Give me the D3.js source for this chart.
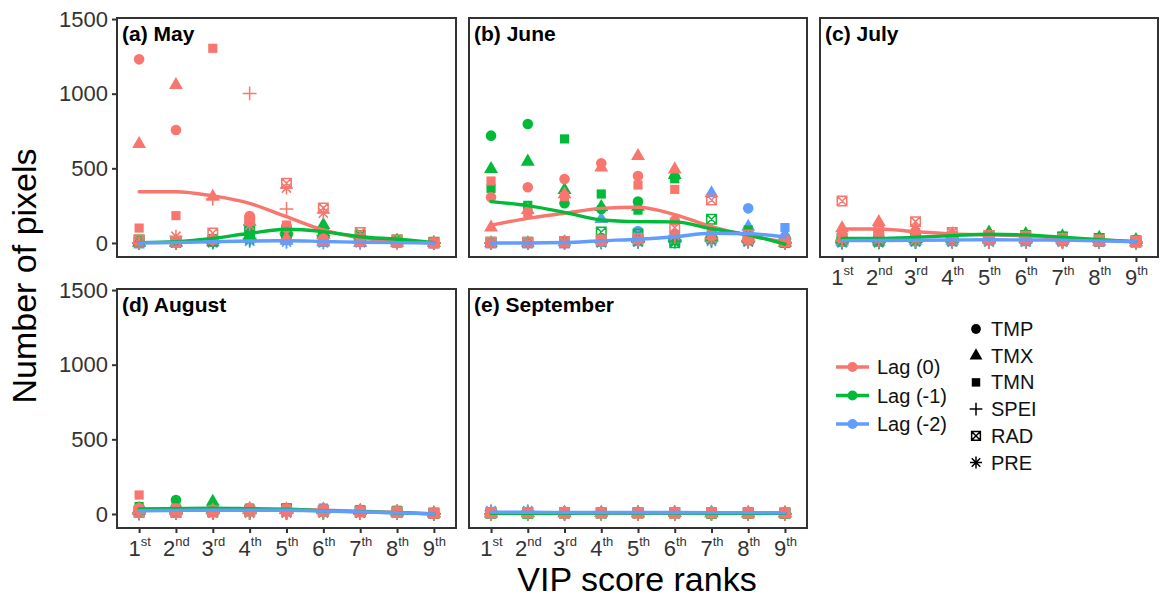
<!DOCTYPE html>
<html>
<head>
<meta charset="utf-8">
<script src="https://cdn.jsdelivr.net/npm/d3@7"></script>
<style>
  body { margin: 0; background: #fff; }
  svg { display: block; font-family: "Liberation Sans", Arial, sans-serif; }
</style>
</head>
<body>
<svg id="chart" width="1161" height="598"></svg>
<script>
const ranks = ["1", "2", "3", "4", "5", "6", "7", "8", "9"];
const rankSuffix = ["st", "nd", "rd", "th", "th", "th", "th", "th", "th"];
const variables = ["TMP", "TMX", "TMN", "SPEI", "RAD", "PRE"];
const lags = ["Lag (0)", "Lag (-1)", "Lag (-2)"];
const monthTitles = ["(a) May", "(b) June", "(c) July", "(d) August", "(e) September"];
const yTicks = [0, 500, 1000, 1500];

// rows: TMP, TMX, TMN, SPEI, RAD, PRE -- columns: rank 1st..9th
const mayLag0 = [
  [1230, 757, 20, 180, 100, 30, 10, 5, 0],
  [663, 1058, 310, 140, 30, 10, 5, 0, 0],
  [100, 183, 1304, 170, 120, 20, 10, 0, 0],
  [0, 0, 295, 1002, 228, 30, 10, 5, 0],
  [20, 10, 67, 150, 400, 235, 70, 20, 0],
  [0, 45, 20, 120, 368, 200, 40, 10, 0]
];
const mayLag1 = [
  [10, 5, 10, 60, 114, 70, 40, 20, 0],
  [5, 5, 20, 50, 90, 120, 35, 15, 0],
  [15, 10, 30, 130, 80, 60, 40, 20, 0],
  [0, 0, 10, 30, 60, 50, 30, 15, 0],
  [20, 10, 15, 80, 70, 60, 50, 20, 5],
  [0, 0, 5, 20, 50, 40, 30, 10, 0]
];
const mayLag2 = [
  [0, 5, 10, 40, 20, 10, 5, 0, 0],
  [0, 0, 5, 30, 15, 5, 0, 0, 0],
  [5, 5, 10, 90, 30, 15, 5, 5, 0],
  [0, 0, 5, 20, 10, 5, 0, 0, 0],
  [0, 5, 10, 100, 25, 10, 10, 5, 0],
  [0, 0, 0, 10, 5, 0, 0, 0, 0]
];
const mayLine0 = [343, 343, 315, 265, 176, 87, 35, 13, 0];
const mayLine1 = [2, 9, 31, 65, 92, 76, 42, 25, 2];
const mayLine2 = [0, 3, 8, 13, 15, 10, 5, 2, 0];

const juneLag0 = [
  [306, 373, 429, 534, 449, 150, 60, 30, 5],
  [103, 221, 326, 505, 583, 493, 80, 40, 10],
  [415, 200, 310, 20, 388, 359, 50, 20, 5],
  [0, 0, 5, 10, 15, 40, 30, 10, 0],
  [5, 5, 10, 20, 30, 102, 288, 54, 9],
  [0, 0, 0, 10, 20, 50, 30, 20, 5]
];
const juneLag1 = [
  [719, 797, 266, 228, 277, 440, 50, 20, 0],
  [496, 545, 355, 241, 243, 455, 60, 40, 0],
  [366, 252, 697, 328, 220, 430, 70, 87, 10],
  [0, 0, 5, 10, 10, 20, 20, 10, 0],
  [5, 5, 10, 74, 60, 2, 159, 30, 5],
  [0, 0, 0, 5, 10, 10, 20, 10, 0]
];
const juneLag2 = [
  [0, 0, 5, 20, 80, 60, 40, 232, 42],
  [0, 0, 5, 161, 30, 40, 333, 109, 50],
  [0, 5, 10, 30, 20, 20, 33, 30, 103],
  [0, 0, 0, 5, 5, 10, 10, 10, 5],
  [0, 0, 0, 10, 15, 20, 30, 20, 10],
  [0, 0, 0, 0, 5, 5, 10, 5, 0]
];
const juneLine0 = [120, 165, 199, 232, 239, 190, 109, 50, 7];
const juneLine1 = [277, 250, 205, 154, 143, 141, 95, 55, -8];
const juneLine2 = [0, 0, 3, 15, 25, 42, 65, 62, 40];

const julyLag0 = [
  [60, 70, 50, 40, 30, 25, 20, 15, 5],
  [98, 140, 90, 60, 40, 30, 20, 10, 5],
  [40, 60, 70, 50, 30, 40, 20, 15, 5],
  [10, 10, 10, 10, 5, 5, 5, 5, 0],
  [281, 80, 143, 70, 50, 45, 30, 20, 10],
  [20, 20, 20, 15, 10, 10, 10, 5, 5]
];
const julyLag1 = [
  [30, 30, 40, 50, 60, 50, 40, 30, 20],
  [40, 30, 40, 55, 70, 60, 45, 35, 20],
  [20, 20, 30, 50, 55, 55, 45, 35, 15],
  [5, 5, 5, 10, 10, 10, 10, 10, 5],
  [30, 20, 30, 40, 50, 50, 40, 30, 15],
  [5, 5, 10, 10, 10, 10, 10, 5, 5]
];
const julyLag2 = [
  [15, 15, 20, 20, 25, 20, 15, 10, 10],
  [10, 10, 15, 15, 20, 20, 15, 10, 5],
  [20, 15, 20, 25, 25, 25, 20, 15, 10],
  [0, 5, 5, 5, 5, 5, 5, 5, 0],
  [10, 10, 15, 15, 20, 15, 15, 10, 5],
  [0, 0, 5, 5, 5, 5, 5, 5, 0]
];
const julyLine0 = [94, 94, 76, 60, 54, 47, 31, 20, 9];
const julyLine1 = [31, 31, 38, 49, 58, 54, 38, 22, 9];
const julyLine2 = [16, 17, 18, 20, 22, 20, 18, 14, 8];

const augLag0 = [
  [40, 30, 25, 40, 30, 30, 25, 15, 5],
  [30, 20, 25, 35, 30, 30, 20, 15, 5],
  [127, 40, 30, 30, 35, 30, 25, 20, 10],
  [5, 5, 5, 5, 5, 5, 5, 5, 0],
  [10, 10, 15, 20, 20, 20, 15, 10, 5],
  [5, 5, 5, 10, 10, 10, 10, 5, 5]
];
const augLag1 = [
  [40, 94, 40, 35, 30, 25, 20, 15, 5],
  [35, 40, 82, 30, 30, 25, 20, 15, 5],
  [50, 40, 35, 40, 40, 30, 30, 25, 5],
  [5, 5, 5, 5, 5, 10, 5, 5, 0],
  [20, 20, 20, 25, 35, 20, 20, 15, 5],
  [5, 5, 10, 10, 10, 10, 5, 5, 0]
];
const augLag2 = [
  [25, 25, 25, 30, 30, 25, 20, 10, 5],
  [20, 20, 25, 25, 25, 30, 20, 10, 5],
  [30, 30, 30, 30, 30, 40, 25, 15, 5],
  [0, 5, 5, 5, 5, 5, 5, 5, 0],
  [15, 15, 15, 20, 20, 25, 15, 10, 5],
  [5, 5, 5, 5, 5, 5, 5, 5, 0]
];
const augLine0 = [30, 32, 35, 33, 30, 25, 18, 10, 2];
const augLine1 = [33, 36, 38, 35, 32, 22, 15, 8, 0];
const augLine2 = [22, 24, 25, 25, 25, 20, 14, 8, 0];

const sepLag0 = [
  [10, 12, 8, 10, 9, 10, 8, 10, 9],
  [5, 6, 5, 7, 5, 6, 5, 5, 6],
  [15, 12, 14, 12, 13, 12, 12, 11, 12],
  [0, 0, 1, 0, 0, 1, 0, 0, 0],
  [8, 9, 8, 8, 7, 8, 8, 8, 8],
  [2, 2, 1, 2, 2, 1, 2, 1, 1]
];
const sepLag1 = [
  [6, 5, 7, 8, 6, 8, 6, 6, 5],
  [4, 5, 5, 6, 5, 6, 5, 4, 4],
  [8, 7, 9, 10, 8, 9, 7, 7, 6],
  [0, 0, 0, 1, 0, 0, 0, 0, 0],
  [5, 5, 6, 7, 6, 6, 5, 5, 4],
  [1, 1, 2, 2, 1, 2, 1, 1, 1]
];
const sepLag2 = [
  [12, 12, 10, 9, 12, 9, 10, 9, 8],
  [10, 10, 9, 8, 10, 8, 9, 8, 7],
  [15, 15, 12, 10, 14, 10, 12, 10, 9],
  [1, 1, 0, 0, 1, 0, 1, 0, 0],
  [9, 10, 8, 8, 9, 8, 8, 8, 7],
  [22, 22, 10, 6, 10, 6, 10, 6, 3]
];
const sepLine0 = [6, 6, 6, 6, 6, 6, 6, 6, 5];
const sepLine1 = [4, 4, 5, 6, 6, 6, 5, 5, 4];
const sepLine2 = [12, 12, 10, 10, 10, 10, 9, 9, 8];

const lagColors = ["#F8766D", "#00BA38", "#619CFF"];

const months = [
  { points: [mayLag0, mayLag1, mayLag2], lines: [mayLine0, mayLine1, mayLine2] },
  { points: [juneLag0, juneLag1, juneLag2], lines: [juneLine0, juneLine1, juneLine2] },
  { points: [julyLag0, julyLag1, julyLag2], lines: [julyLine0, julyLine1, julyLine2] },
  { points: [augLag0, augLag1, augLag2], lines: [augLine0, augLine1, augLine2] },
  { points: [sepLag0, sepLag1, sepLag2], lines: [sepLine0, sepLine1, sepLine2] }
];

// panel layout
const rowsPos = [{ top: 18, bottom: 257 }, { top: 289, bottom: 528 }];
const panelPos = [
  { x0: 117, x1: 456, row: 0, yAxis: true, xAxis: false },
  { x0: 469, x1: 807, row: 0, yAxis: false, xAxis: false },
  { x0: 820, x1: 1158, row: 0, yAxis: false, xAxis: true },
  { x0: 117, x1: 456, row: 1, yAxis: true, xAxis: true },
  { x0: 469, x1: 807, row: 1, yAxis: false, xAxis: true }
];

// custom stroked symbols
const symPlus = {
  draw(ctx, size) {
    const r = Math.sqrt(size) / 2;
    ctx.moveTo(-r, 0); ctx.lineTo(r, 0);
    ctx.moveTo(0, -r); ctx.lineTo(0, r);
  }
};
const symSquareCross = {
  draw(ctx, size) {
    const r = Math.sqrt(size) / 2;
    ctx.rect(-r, -r, 2 * r, 2 * r);
    ctx.moveTo(-r, -r); ctx.lineTo(r, r);
    ctx.moveTo(r, -r); ctx.lineTo(-r, r);
  }
};
const symAsterisk = {
  draw(ctx, size) {
    const r = Math.sqrt(size) / 2;
    const d = r * Math.SQRT1_2;
    ctx.moveTo(-r, 0); ctx.lineTo(r, 0);
    ctx.moveTo(0, -r); ctx.lineTo(0, r);
    ctx.moveTo(-d, -d); ctx.lineTo(d, d);
    ctx.moveTo(d, -d); ctx.lineTo(-d, d);
  }
};
const shapes = [
  { type: d3.symbolCircle, size: 88, filled: true },
  { type: d3.symbolTriangle, size: 84, filled: true },
  { type: d3.symbolSquare, size: 84, filled: true },
  { type: symPlus, size: 190, filled: false },
  { type: symSquareCross, size: 90, filled: false },
  { type: symAsterisk, size: 170, filled: false }
];

const svg = d3.select("#chart");

panelPos.forEach((p, mi) => {
  const row = rowsPos[p.row];
  const x = d3.scalePoint().domain(ranks).range([p.x0, p.x1]).padding(0.6);
  const y = d3.scaleLinear().domain([-94, 1507]).range([row.bottom, row.top]);
  const g = svg.append("g").attr("class", "panel");

  g.append("rect")
    .attr("x", p.x0).attr("y", row.top)
    .attr("width", p.x1 - p.x0).attr("height", row.bottom - row.top)
    .attr("fill", "#fff");

  const m = months[mi];
  // points: Lag(-2) first, Lag(0) last
  [2, 1, 0].forEach((li) => {
    const pts = [];
    m.points[li].forEach((vals, vi) => {
      vals.forEach((v, ri) => pts.push({ vi, rank: ranks[ri], v }));
    });
    g.append("g").selectAll("path")
      .data(pts)
      .join("path")
      .attr("transform", (d) => `translate(${x(d.rank)},${y(d.v)})`)
      .attr("d", (d) => d3.symbol(shapes[d.vi].type, shapes[d.vi].size)())
      .attr("fill", (d) => (shapes[d.vi].filled ? lagColors[li] : "none"))
      .attr("stroke", (d) => (shapes[d.vi].filled ? "none" : lagColors[li]))
      .attr("stroke-width", 1.5);
  });

  const line = d3.line()
    .x((d, i) => x(ranks[i]))
    .y((d) => y(d))
    .curve(d3.curveMonotoneX);
  [0, 1, 2].forEach((li) => {
    g.append("path")
      .datum(m.lines[li])
      .attr("d", line)
      .attr("fill", "none")
      .attr("stroke", lagColors[li])
      .attr("stroke-width", 3.4)
      .attr("stroke-linecap", "round");
  });

  g.append("rect")
    .attr("x", p.x0).attr("y", row.top)
    .attr("width", p.x1 - p.x0).attr("height", row.bottom - row.top)
    .attr("fill", "none").attr("stroke", "#333").attr("stroke-width", 2);

  g.append("text")
    .attr("x", p.x0 + 5).attr("y", row.top + 23)
    .attr("font-size", 21).attr("font-weight", "bold").attr("fill", "#000")
    .text(monthTitles[mi]);

  if (p.yAxis) {
    const ay = g.append("g")
      .attr("transform", `translate(${p.x0},0)`)
      .call(d3.axisLeft(y).tickValues(yTicks).tickFormat(d3.format("d"))
        .tickSize(5).tickPadding(4));
    ay.select(".domain").remove();
    ay.selectAll("line").attr("stroke", "#333").attr("stroke-width", 2);
    ay.selectAll("text").attr("font-size", 22).attr("fill", "#333")
      .attr("font-family", null);
  }
  if (p.xAxis) {
    const ax = g.append("g")
      .attr("transform", `translate(0,${row.bottom})`)
      .call(d3.axisBottom(x).tickSize(5).tickPadding(2));
    ax.select(".domain").remove();
    ax.selectAll("line").attr("stroke", "#333").attr("stroke-width", 2);
    ax.selectAll("text")
      .attr("font-size", 22).attr("fill", "#333").attr("font-family", null)
      .attr("dy", "0.95em")
      .text(null)
      .each(function (d, i) {
        const t = d3.select(this);
        t.append("tspan").text(d);
        t.append("tspan").attr("font-size", 13).attr("dy", "-0.8em").text(rankSuffix[i]);
      });
  }
});

// axis titles
svg.append("text")
  .attr("transform", "translate(36,276) rotate(-90)")
  .attr("text-anchor", "middle")
  .attr("font-size", 34).attr("fill", "#000")
  .text("Number of pixels");
svg.append("text")
  .attr("x", 637).attr("y", 591)
  .attr("text-anchor", "middle")
  .attr("font-size", 34).attr("fill", "#000")
  .text("VIP score ranks");

// legend: lags
const lagLegend = svg.append("g").selectAll("g")
  .data(lags)
  .join("g")
  .attr("transform", (d, i) => `translate(836,${367 + i * 28.5})`);
lagLegend.append("line")
  .attr("x1", 0).attr("x2", 33)
  .attr("stroke", (d, i) => lagColors[i]).attr("stroke-width", 3.4);
lagLegend.append("circle")
  .attr("cx", 16.5).attr("r", 5)
  .attr("fill", (d, i) => lagColors[i]);
lagLegend.append("text")
  .attr("x", 41).attr("dy", "0.35em")
  .attr("font-size", 20).attr("fill", "#111")
  .text((d) => d);

// legend: variables
const varLegend = svg.append("g").selectAll("g")
  .data(variables)
  .join("g")
  .attr("transform", (d, i) => `translate(976,${329 + i * 26.7})`);
varLegend.append("path")
  .attr("d", (d, i) => d3.symbol(shapes[i].type, shapes[i].size * 0.85)())
  .attr("fill", (d, i) => (shapes[i].filled ? "#000" : "none"))
  .attr("stroke", (d, i) => (shapes[i].filled ? "none" : "#000"))
  .attr("stroke-width", 1.5);
varLegend.append("text")
  .attr("x", 15).attr("dy", "0.35em")
  .attr("font-size", 20).attr("fill", "#111")
  .text((d) => d);
</script>
</body>
</html>
